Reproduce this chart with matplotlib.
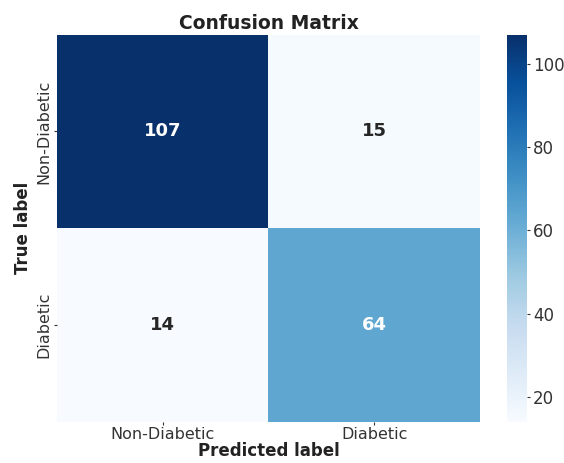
import numpy as np
import matplotlib
matplotlib.use('Agg')
import matplotlib.pyplot as plt
import seaborn as sns

# Labels en waarden
labels = ['Non-Diabetic', 'Diabetic']
cm = np.array([[107, 15],
               [14, 64]])

fig = plt.figure(figsize=(5.64, 4.63), dpi=100)
ax = fig.add_axes([0.101, 0.089, 0.750, 0.836])
cax = fig.add_axes([0.899, 0.089, 0.036, 0.836])

sns.heatmap(cm, annot=True, fmt='d', cmap='Blues', ax=ax, cbar_ax=cax,
            xticklabels=labels, yticklabels=labels,
            annot_kws={'size': 13, 'weight': 'bold'})

ax.set_title('Confusion Matrix', fontsize=13.5, fontweight='bold', color='#222222', pad=4)
ax.set_xlabel('Predicted label', fontsize=12, fontweight='bold', color='#222222', labelpad=0)
ax.set_ylabel('True label', fontsize=12, fontweight='bold', color='#222222', labelpad=3)
ax.tick_params(labelsize=11.5, colors='#333333', length=2, pad=2)
cax.tick_params(labelsize=12, colors='#333333', length=2, pad=2)
cax.set_yticks([20, 40, 60, 80, 100])

fig.savefig('out.png', dpi=100)
